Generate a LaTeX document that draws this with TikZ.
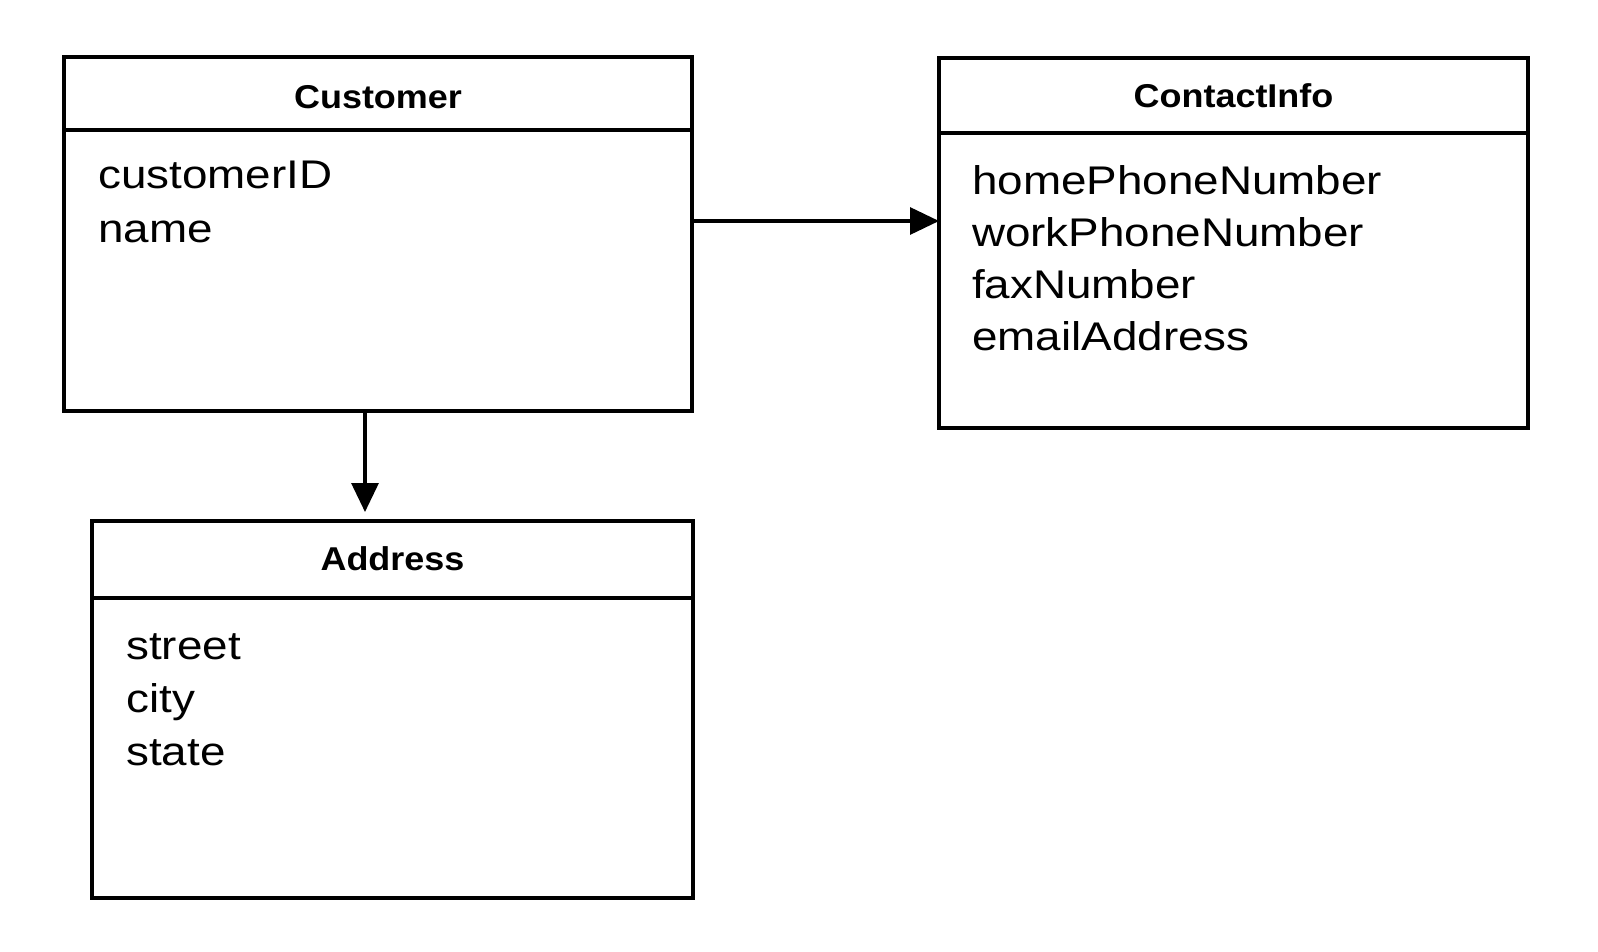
\documentclass[tikz,border=0pt]{standalone}
\usepackage{fontspec}
\setmainfont{Liberation Sans}[FakeStretch=1.145]
\newfontfamily\titlefont{Liberation Sans}[FakeStretch=1.09]
\usetikzlibrary{arrows.meta}
\begin{document}
\begin{tikzpicture}[x=1pt,y=-1pt,
  box/.style={draw=black, line width=3.4pt, outer sep=0pt, inner sep=0pt, rectangle},
  sep/.style={draw=black, line width=3.4pt},
  ttl/.style={anchor=base, inner sep=0pt, font=\titlefont\bfseries\fontsize{33}{40}\selectfont},
  attr/.style={anchor=base west, inner sep=0pt, font=\fontsize{40}{52}\selectfont},
  arr/.style={line width=3.2pt, -{Triangle[length=29pt,width=27pt]}}]
\useasboundingbox (0,0) rectangle (1598,952);
% boxes
\node[box, minimum width=628pt, minimum height=354pt] (customer) at (378,234) {};
\node[box, minimum width=589pt, minimum height=370pt] (contact) at (1233.5,243) {};
\node[box, minimum width=601pt, minimum height=377pt] (address) at (392.5,709.5) {};
% header separators
\coordinate (cs) at (0,130);
\coordinate (ks) at (0,133);
\coordinate (as) at (0,598);
\draw[sep] (customer.west |- cs) -- (customer.east |- cs);
\draw[sep] (contact.west |- ks) -- (contact.east |- ks);
\draw[sep] (address.west |- as) -- (address.east |- as);
% titles
\node[ttl] (customer-t) at (378,109) {Customer};
\node[ttl] (contact-t) at (1233.5,108) {ContactInfo};
\node[ttl] (address-t) at (392.5,570) {Address};
% attributes
\node[attr] (c1) at (98,189) {customerID};
\node[attr] (c2) at (98,242) {name};
\node[attr] (k1) at (972,195) {homePhoneNumber};
\node[attr] (k2) at (972,247) {workPhoneNumber};
\node[attr] (k3) at (972,298) {faxNumber};
\node[attr] (k4) at (972,350) {emailAddress};
\node[attr] (a1) at (126,659) {street};
\node[attr] (a2) at (126,712) {city};
\node[attr] (a3) at (126,765) {state};
% connectors
\coordinate (h) at (0,221);
\coordinate (v) at (365,0);
\draw[arr] (customer.east |- h) -- (contact.west |- h);
\draw[arr, shorten >=9pt] (customer.south -| v) -- (address.north -| v);
\end{tikzpicture}
\end{document}
